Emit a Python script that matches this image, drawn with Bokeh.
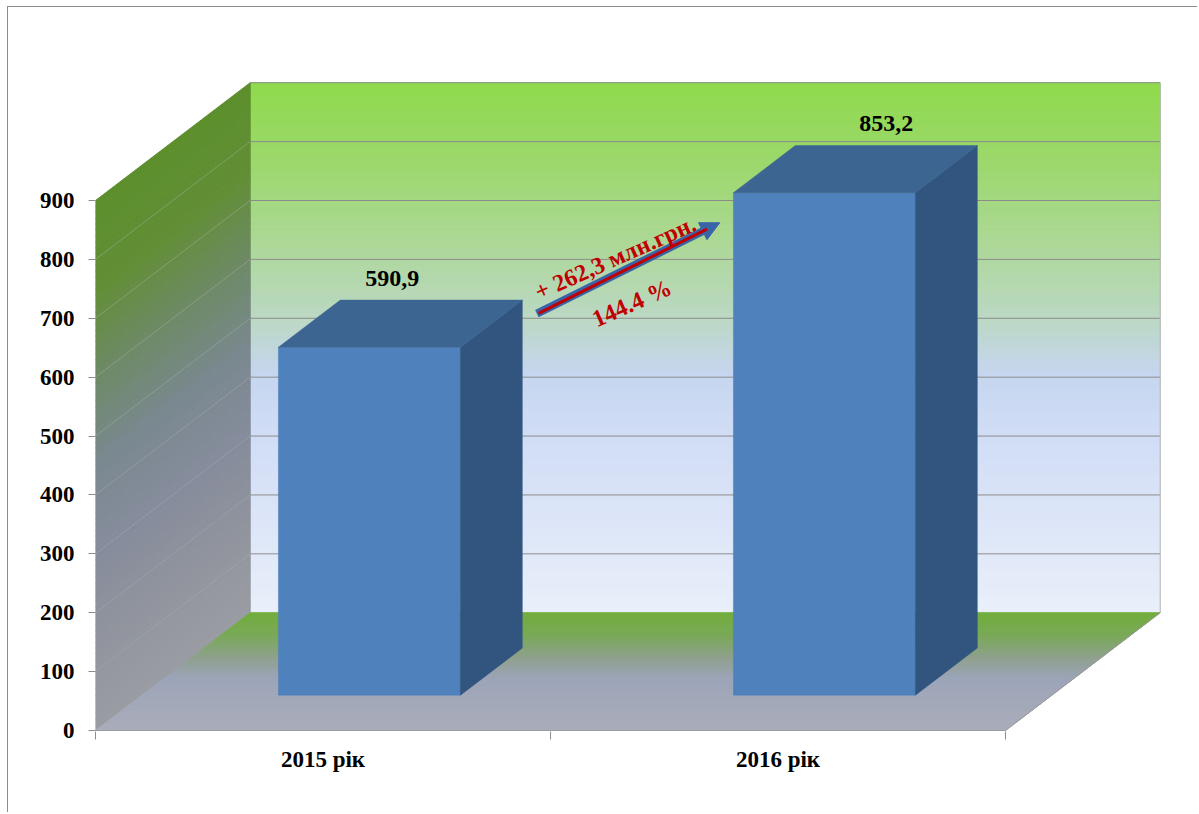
import numpy as np
from bokeh.plotting import figure
from bokeh.models import (Range1d, FixedTicker, LinearAxis, Arrow, NormalHead,
                          ColumnDataSource, Label)
from bokeh.core.properties import value
from bokeh.embed import file_html
from bokeh.resources import INLINE

# ---------------- data ----------------
categories = ["2015 рік", "2016 рік"]
values = [590.9, 853.2]
value_labels = ["590,9", "853,2"]
y_ticks = [0, 100, 200, 300, 400, 500, 600, 700, 800, 900]
delta_label = "+ 262,3 млн.грн."
pct_label = "144.4 %"

# ---------------- layout / projection ----------------
W, H = 1190, 806
FRAME_LEFT, FRAME_BOTTOM = 87, 82
PX_PER_CAT = 455.0
PX_PER_VAL = 530.0 / 900.0
NCAT = len(categories)
YMAX = y_ticks[-1]
DX = 0.34          # depth shift along x (category units)
DY = 200.0         # depth shift along y (value units)
F0, F1 = 0.3, 0.7  # bar depth range (fraction of wall depth)
HALF_W = 0.2       # half bar width (category units)

frame_w = W - FRAME_LEFT
frame_h = H - FRAME_BOTTOM
x_end = frame_w / PX_PER_CAT
y_start = -1.0 / PX_PER_VAL
y_end = y_start + frame_h / PX_PER_VAL

FONT = value("Liberation Serif")


def hex2rgb(h):
    h = h.lstrip("#")
    return np.array([int(h[i:i + 2], 16) for i in (0, 2, 4)], dtype=float)


def grad(stops, t):
    ts = [s[0] for s in stops]
    cs = [hex2rgb(s[1]) for s in stops]
    for i in range(len(ts) - 1):
        if ts[i] <= t <= ts[i + 1]:
            u = (t - ts[i]) / (ts[i + 1] - ts[i]) if ts[i + 1] > ts[i] else 0
            c = cs[i] * (1 - u) + cs[i + 1] * u
            return "#%02x%02x%02x" % tuple(int(round(v)) for v in c)
    c = cs[0] if t < ts[0] else cs[-1]
    return "#%02x%02x%02x" % tuple(int(v) for v in c)


p = figure(width=W, height=H,
           x_range=Range1d(0, x_end), y_range=Range1d(y_start, y_end),
           x_axis_type=None, y_axis_type=None,
           output_backend="svg", toolbar_location=None,
           min_border_left=FRAME_LEFT, min_border_right=0,
           min_border_top=0, min_border_bottom=FRAME_BOTTOM,
           outline_line_color=None, background_fill_color="white",
           border_fill_color="white")
p.styles = {"margin-left": "7px", "margin-top": "6px",
            "border-left": "1px solid #8c8c8c",
            "border-top": "1px solid #8c8c8c"}

# ---------------- back wall (vertical gradient) ----------------
back_stops = [(0.0, "#e9effa"), (0.3, "#d3dff6"), (0.45, "#c6d6f0"),
              (0.55, "#bcd8c6"), (0.7, "#acd896"), (0.85, "#9cd86c"),
              (1.0, "#8fda4c")]
N = 90
edges = np.linspace(0, YMAX, N + 1)
bw = dict(left=[], right=[], bottom=[], top=[], color=[])
for i in range(N):
    bw["left"].append(DX)
    bw["right"].append(NCAT + DX)
    bw["bottom"].append(edges[i] + DY)
    bw["top"].append(edges[i + 1] + DY)
    bw["color"].append(grad(back_stops, (edges[i] + edges[i + 1]) / 2 / YMAX))
p.quad(left="left", right="right", bottom="bottom", top="top",
       fill_color="color", line_color="color", line_width=1,
       source=ColumnDataSource(bw))

# ---------------- left wall ----------------
left_stops = [(0.0, "#9a9ca3"), (0.17, "#90949d"), (0.33, "#868c9c"),
              (0.5, "#7a8890"), (0.67, "#6d8a66"), (0.83, "#628e36"),
              (1.0, "#5c8f2c")]
lw_xs, lw_ys, lw_c = [], [], []
for i in range(N):
    v0, v1 = edges[i], edges[i + 1]
    lw_xs.append([0, 0, DX, DX])
    lw_ys.append([v0, v1, v1 + DY, v0 + DY])
    lw_c.append(grad(left_stops, (v0 + v1) / 2 / YMAX))
p.patches(xs=lw_xs, ys=lw_ys, fill_color=lw_c, line_color=lw_c, line_width=1)

# ---------------- floor ----------------
floor_stops = [(0.0, "#aaadba"), (0.45, "#9ca4b8"), (0.62, "#8fa08e"),
               (0.8, "#7aa85a"), (1.0, "#72ad3c")]
NF = 40
fe = np.linspace(0, 1, NF + 1)
fl_xs, fl_ys, fl_c = [], [], []
for i in range(NF):
    f0, f1 = fe[i], fe[i + 1]
    fl_xs.append([f0 * DX, NCAT + f0 * DX, NCAT + f1 * DX, f1 * DX])
    fl_ys.append([f0 * DY, f0 * DY, f1 * DY, f1 * DY])
    fl_c.append(grad(floor_stops, (f0 + f1) / 2))
p.patches(xs=fl_xs, ys=fl_ys, fill_color=fl_c, line_color=fl_c, line_width=1)

# ---------------- grid lines ----------------
gl = [t for t in y_ticks if t > 0]
p.segment(x0=[DX] * len(gl), x1=[NCAT + DX] * len(gl),
          y0=[t + DY for t in gl], y1=[t + DY for t in gl],
          line_color="#8c8c8c", line_width=1)
gl2 = [t for t in y_ticks if 0 < t < YMAX]
p.segment(x0=[0] * len(gl2), x1=[DX] * len(gl2),
          y0=gl2, y1=[t + DY for t in gl2],
          line_color="#a6ada6", line_alpha=0.5, line_width=1)
# outlines
p.line(x=[NCAT + DX, NCAT + DX], y=[DY, YMAX + DY], line_color="#b4b4b4", line_width=1)
p.line(x=[0, NCAT, NCAT + DX], y=[0, 0, DY], line_color="#9a9a9a", line_width=1)

# ---------------- 3D bars ----------------
for i, v in enumerate(values):
    c = i + 0.5
    xl, xr = c - HALF_W, c + HALF_W
    # front
    p.quad(left=[xl + F0 * DX], right=[xr + F0 * DX],
           bottom=[F0 * DY], top=[v + F0 * DY],
           fill_color="#4f81bd", line_color="#4f81bd", line_width=0.5)
    # side
    p.patch(x=[xr + F0 * DX, xr + F1 * DX, xr + F1 * DX, xr + F0 * DX],
            y=[F0 * DY, F1 * DY, v + F1 * DY, v + F0 * DY],
            fill_color="#31557f", line_color="#31557f", line_width=0.5)
    # top
    p.patch(x=[xl + F0 * DX, xr + F0 * DX, xr + F1 * DX, xl + F1 * DX],
            y=[v + F0 * DY, v + F0 * DY, v + F1 * DY, v + F1 * DY],
            fill_color="#3c6592", line_color="#3c6592", line_width=0.5)

# value labels
label_shift_px = [-39, 0]
lab_x = [i + 0.5 + F1 * DX + label_shift_px[i] / PX_PER_CAT for i in range(NCAT)]
lab_y = [v + F1 * DY + 22 / PX_PER_VAL for v in values]
p.text(x=lab_x, y=lab_y, text=value_labels, text_align="center",
       text_baseline="middle", text_font=FONT, text_font_style="bold",
       text_font_size="24px", text_color="black")

# ---------------- growth arrow ----------------
ax0 = NCAT / 2 - 0.03
ay0 = values[0] + 0.585 * DY
ax1 = 1.5 - HALF_W + F0 * DX - 0.03
ay1 = values[1] + 0.045 * DY
p.add_layout(Arrow(x_start=ax0, y_start=ay0, x_end=ax1, y_end=ay1,
                   line_color="#3a64a8", line_width=8,
                   end=NormalHead(size=19, fill_color="#3a64a8",
                                  line_color="#3a64a8")))
f = 0.93
p.add_layout(Arrow(x_start=ax0 + 0.004, y_start=ay0 + 0.002 * DY,
                   x_end=ax0 + (ax1 - ax0) * f, y_end=ay0 + (ay1 - ay0) * f,
                   line_color="#c00000", line_width=3, end=None))

mx, my = (ax0 + ax1) / 2, (ay0 + ay1) / 2
ang = float(np.deg2rad(24))
t_off = [(-13.0, -10.5), (3.5, 35.0)]   # screen px offsets from arrow middle
for (ox, oy), txt in zip(t_off, [delta_label, pct_label]):
    p.add_layout(Label(x=mx + ox / PX_PER_CAT, y=my - oy / PX_PER_VAL,
                       text=txt, angle=ang, text_align="center",
                       text_baseline="middle", text_font="Liberation Serif",
                       text_font_style="bold", text_font_size="24px",
                       text_color="#c00000"))

# ---------------- axes ----------------
yax = LinearAxis(ticker=FixedTicker(ticks=y_ticks, minor_ticks=[]))
yax.axis_line_color = None
yax.major_tick_line_color = "#8c8c8c"
yax.major_tick_out = 7
yax.major_tick_in = 0
yax.minor_tick_line_color = None
yax.major_label_standoff = 14
yax.major_label_text_font = "Liberation Serif"
yax.major_label_text_font_style = "bold"
yax.major_label_text_font_size = "23px"
yax.major_label_text_color = "black"
p.add_layout(yax, "left")

cat_pos = [i + 0.5 for i in range(NCAT)]
xax = LinearAxis(ticker=FixedTicker(ticks=cat_pos,
                                    minor_ticks=list(range(NCAT + 1))))
xax.major_label_overrides = {cp: lab for cp, lab in zip(cat_pos, categories)}
xax.axis_line_color = None
xax.major_tick_line_color = None
xax.major_tick_out = 0
xax.major_tick_in = 0
xax.minor_tick_line_color = "#8c8c8c"
xax.minor_tick_out = 8
xax.minor_tick_in = 0
xax.major_label_standoff = 7
xax.major_label_text_font = "Liberation Serif"
xax.major_label_text_font_style = "bold"
xax.major_label_text_font_size = "23px"
xax.major_label_text_color = "black"
p.add_layout(xax, "below")

open("out.html", "w").write(file_html(p, INLINE))
